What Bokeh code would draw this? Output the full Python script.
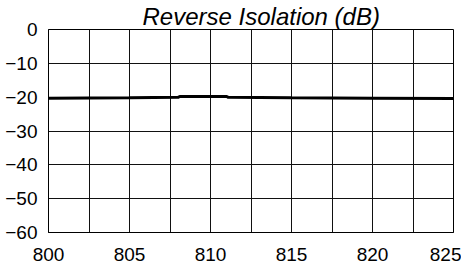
from bokeh.plotting import figure
from bokeh.models import Range1d, FixedTicker
from bokeh.embed import file_html
from bokeh.resources import INLINE

# data (frequency MHz, reverse isolation dB)
freq = [800, 805, 808, 808.1, 811, 811.1, 815, 820, 825]
isolation = [-20.3, -20.2, -20.05, -19.8, -19.8, -20.05, -20.2, -20.3, -20.4]

x_ticks = [800, 805, 810, 815, 820, 825]
x_grid = [800, 802.5, 805, 807.5, 810, 812.5, 815, 817.5, 820, 822.5, 825]
y_ticks = [0, -10, -20, -30, -40, -50, -60]
title_text = "Reverse Isolation (dB)"

p = figure(width=461, height=268, output_backend="svg",
           toolbar_location=None,
           x_range=Range1d(800, 825), y_range=Range1d(-60, 0),
           min_border_left=48, min_border_right=8, min_border_top=29,
           min_border_bottom=36)

p.title.text = title_text
p.title.text_font = "Liberation Sans"
p.title.text_font_style = "italic"
p.title.text_font_size = "24px"
p.title.align = "left"
p.title.offset = 94
p.title.standoff = 0
p.title.text_color = "black"

p.line(freq, isolation, line_color="black", line_width=3)

for ax in (p.xaxis[0], p.yaxis[0]):
    ax.major_tick_out = 0
    ax.major_tick_in = 0
    ax.minor_tick_out = 0
    ax.minor_tick_in = 0
    ax.axis_line_color = "black"
    ax.major_label_text_font = "Liberation Sans"
    ax.major_label_text_font_size = "19px"
    ax.major_label_text_color = "black"

p.xaxis[0].ticker = FixedTicker(ticks=x_ticks)
p.yaxis[0].ticker = FixedTicker(ticks=y_ticks)
p.xaxis[0].major_label_standoff = 15
p.yaxis[0].major_label_standoff = 11

p.xgrid[0].ticker = FixedTicker(ticks=x_grid)
p.ygrid[0].ticker = FixedTicker(ticks=y_ticks)
for g in (p.xgrid[0], p.ygrid[0]):
    g.grid_line_color = "#111111"
    g.grid_line_width = 1
    g.grid_line_alpha = 1

p.outline_line_color = "black"
p.outline_line_width = 1
p.outline_line_alpha = 1
p.background_fill_color = "white"
p.border_fill_color = "white"

open("out.html", "w").write(file_html(p, INLINE))
